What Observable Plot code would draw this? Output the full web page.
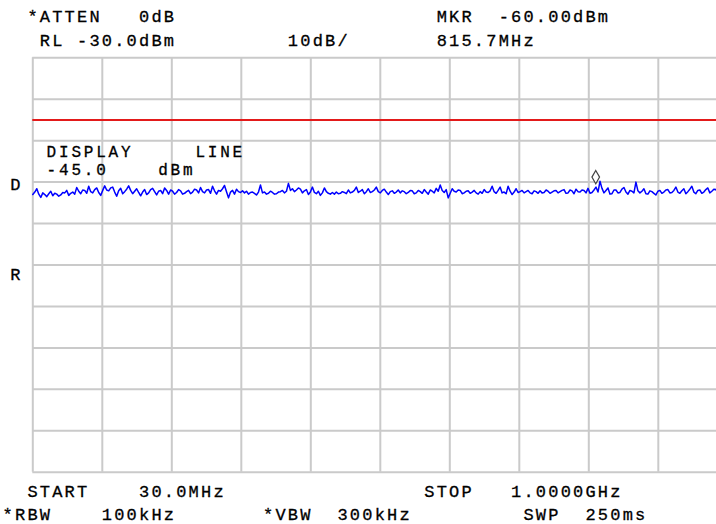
<!DOCTYPE html>
<html>
<head>
<meta charset="utf-8">
<script src="https://cdn.jsdelivr.net/npm/d3@7"></script>
<script src="https://cdn.jsdelivr.net/npm/@observablehq/plot@0.6"></script>
<style>
  html, body { margin: 0; padding: 0; background: #fff; }
  #wrap { position: relative; width: 716px; height: 524px; overflow: hidden; background: #fff; }
  pre.row { position: absolute; margin: 0; left: 2.6px; font-family: "Liberation Mono", monospace;
            font-size: 17px; letter-spacing: 2.2px; color: #000; -webkit-text-stroke: 0.3px #000; }
  #hdr { top: 5.5px; line-height: 24px; }
  #ftr { top: 481px; line-height: 23px; }
  #chart { position: absolute; left: 0; top: 55px; width: 728px; }
  #chart svg { max-width: none !important; }
  #chart svg text { white-space: pre; stroke: #000; stroke-width: 0.3px; }
</style>
</head>
<body>
<div id="wrap">
  <pre class="row" id="hdr"></pre>
  <div id="chart"></div>
  <pre class="row" id="ftr"></pre>
</div>
<script>
// ---- header / footer text rows (instrument annotation) ----
const headerRows = [
  "  *ATTEN   0dB                     MKR  -60.00dBm",
  "   RL -30.0dBm         10dB/       815.7MHz"
];
const footerRows = [
  "  START    30.0MHz                STOP   1.0000GHz",
  "*RBW    100kHz       *VBW  300kHz         SWP  250ms"
];

// ---- scale settings ----
const refLevelDb = [-30];          // RL
const dbPerDiv = [10];             // 10dB/
const freqSpanMHz = [30, 1000];    // START / STOP
const displayLineDb = [-45];       // red display line
const displayLineLabel = ["DISPLAY     LINE", "-45.0    dBm"];
const marker = [{freq: 815.7, db: -60}];
const sideLabels = [{label: "D", db: -60.6}, {label: "R", db: -82.2}];

// ---- trace values (dBm), equally spaced sweep points from START to STOP ----
const traceDb = [
 -63.0,-62.4,-61.6,-62.9,-63.7,-62.6,-63.0,-63.5,-62.8,-62.2,
 -63.3,-62.7,-62.9,-63.4,-63.1,-62.5,-62.6,-62.0,-63.2,-62.7,
 -62.4,-62.9,-61.3,-62.2,-62.8,-61.9,-62.0,-62.7,-61.0,-62.3,
 -62.6,-61.8,-61.4,-62.5,-63.2,-62.0,-60.9,-61.9,-62.1,-61.4,
 -61.2,-62.4,-63.4,-62.1,-61.5,-62.8,-62.3,-61.7,-60.9,-62.0,
 -62.8,-62.2,-61.6,-62.5,-63.3,-62.4,-61.8,-63.0,-62.6,-61.8,
 -61.5,-62.3,-63.1,-62.2,-62.0,-62.8,-61.4,-62.0,-62.9,-61.9,
 -62.2,-62.9,-62.5,-61.8,-62.1,-62.9,-62.7,-62.3,-62.0,-62.8,
 -62.4,-61.7,-61.9,-62.6,-61.3,-62.3,-62.6,-61.9,-61.8,-62.7,
 -61.0,-62.1,-62.9,-62.0,-62.2,-61.6,-60.8,-62.3,-63.8,-62.4,
 -62.0,-62.9,-61.7,-62.3,-62.5,-62.1,-62.6,-62.2,-62.9,-62.5,
 -62.4,-62.7,-63.1,-62.4,-60.7,-62.6,-62.4,-62.9,-62.7,-62.2,
 -62.5,-62.9,-62.8,-62.4,-62.3,-62.0,-62.6,-62.2,-60.3,-62.0,
 -61.6,-62.3,-61.9,-61.4,-61.7,-62.6,-62.1,-61.8,-63.0,-62.4,
 -61.2,-62.5,-62.8,-62.2,-63.2,-62.6,-61.4,-62.3,-62.7,-62.9,
 -62.5,-62.9,-62.4,-62.8,-62.7,-62.3,-62.5,-62.8,-61.9,-62.6,
 -62.4,-62.0,-61.2,-62.5,-62.2,-61.8,-62.8,-62.3,-61.6,-62.5,
 -62.3,-61.9,-61.2,-62.3,-62.6,-62.0,-61.7,-62.4,-63.0,-62.3,
 -62.1,-62.7,-62.4,-61.9,-62.6,-62.1,-62.3,-62.8,-62.5,-62.0,
 -62.1,-62.8,-62.6,-62.0,-62.3,-62.7,-61.8,-62.4,-62.9,-61.9,
 -62.2,-62.6,-61.5,-62.2,-60.7,-62.0,-62.5,-61.8,-63.8,-62.7,
 -61.6,-62.2,-62.4,-61.9,-62.0,-62.8,-62.6,-62.2,-62.1,-62.7,
 -62.4,-62.0,-62.6,-62.9,-62.3,-62.7,-61.8,-62.4,-62.5,-62.1,
 -61.0,-62.3,-62.7,-62.0,-61.2,-62.6,-62.4,-62.8,-61.0,-62.2,
 -63.0,-62.4,-61.6,-62.5,-62.3,-62.0,-62.6,-62.3,-62.0,-62.6,
 -62.8,-62.1,-62.3,-62.7,-62.1,-62.6,-62.5,-61.9,-62.2,-62.7,
 -62.4,-62.1,-62.0,-62.6,-62.3,-62.0,-61.8,-62.7,-62.6,-61.9,
 -62.1,-62.8,-61.7,-62.3,-62.4,-61.9,-62.0,-62.6,-61.5,-62.7,
 -62.5,-61.9,-61.2,-62.4,-59.8,-61.5,-62.6,-62.0,-61.4,-62.9,
 -62.8,-61.9,-61.9,-62.6,-62.5,-61.7,-61.3,-62.4,-62.9,-62.0,
 -62.2,-62.6,-60.0,-62.1,-62.6,-62.2,-61.6,-62.8,-62.9,-62.1,
 -62.3,-62.7,-63.1,-62.2,-62.0,-62.7,-62.4,-61.9,-61.8,-62.6,
 -62.5,-62.0,-61.2,-62.4,-62.7,-62.1,-61.6,-62.8,-62.3,-61.7,
 -61.0,-62.4,-62.8,-62.0,-61.9,-62.7,-62.4,-61.8,-61.4,-62.6,
 -62.2,-61.7,-61.8,-62.6,-62.5,-62.0,-62.1,-62.7,
 -62.4
];

// sweep point frequencies (equal spacing between START and STOP)
const [f0, f1] = freqSpanMHz;
const trace = traceDb.map((db, i) => ({freq: f0 + (f1 - f0) * i / (traceDb.length - 1), db}));

const yTop = refLevelDb[0], yBottom = refLevelDb[0] - 10 * dbPerDiv[0];
const yTicks = d3.range(0, 11).map(k => yTop - k * dbPerDiv[0]);
const xTicks = d3.range(0, 11).map(k => f0 + k * (f1 - f0) / 10);

document.getElementById("hdr").textContent = headerRows.join("\n");
document.getElementById("ftr").textContent = footerRows.join("\n");

const gridColor = "#cacaca";
const labelFont = {fontFamily: "Liberation Mono", fontSize: 16};

const chart = Plot.plot({
  width: 728,
  height: 419,
  marginLeft: 32.3,
  marginRight: 0.7,
  marginTop: 2.3,
  marginBottom: 2.3,
  x: {domain: [f0, f1], axis: null},
  y: {domain: [yBottom, yTop], axis: null},
  style: {background: "#fff", fontFamily: "Liberation Mono", fontSize: "16px", letterSpacing: "2.8px",
          color: "#000", maxWidth: "none"},
  marks: [
    Plot.ruleY(yTicks, {stroke: gridColor, strokeWidth: 2}),
    Plot.ruleX(xTicks, {stroke: gridColor, strokeWidth: 2}),
    Plot.ruleY(displayLineDb, {stroke: "#e31a1a", strokeWidth: 2}),
    Plot.text([displayLineLabel[0]], {frameAnchor: "left", y: () => displayLineDb[0], text: d => d,
      textAnchor: "start", dx: 13.8, dy: 31.6, ...labelFont, fill: "#000"}),
    Plot.text([displayLineLabel[1]], {frameAnchor: "left", y: () => displayLineDb[0], text: d => d,
      textAnchor: "start", dx: 13.8, dy: 49.8, ...labelFont, fill: "#000"}),
    Plot.text(sideLabels, {frameAnchor: "left", y: "db", text: "label", textAnchor: "middle",
      dx: -16, fontFamily: "Liberation Mono", fontSize: 17, fill: "#000"}),
    Plot.line(trace, {x: "freq", y: "db", stroke: "#0000ff", strokeWidth: 1.5}),
    Plot.dot(marker, {x: "freq", y: "db", symbol: "diamond", r: 4, dy: -5,
      stroke: "#444", fill: "#fff", strokeWidth: 1.2})
  ]
});
document.getElementById("chart").appendChild(chart);
</script>
</body>
</html>
